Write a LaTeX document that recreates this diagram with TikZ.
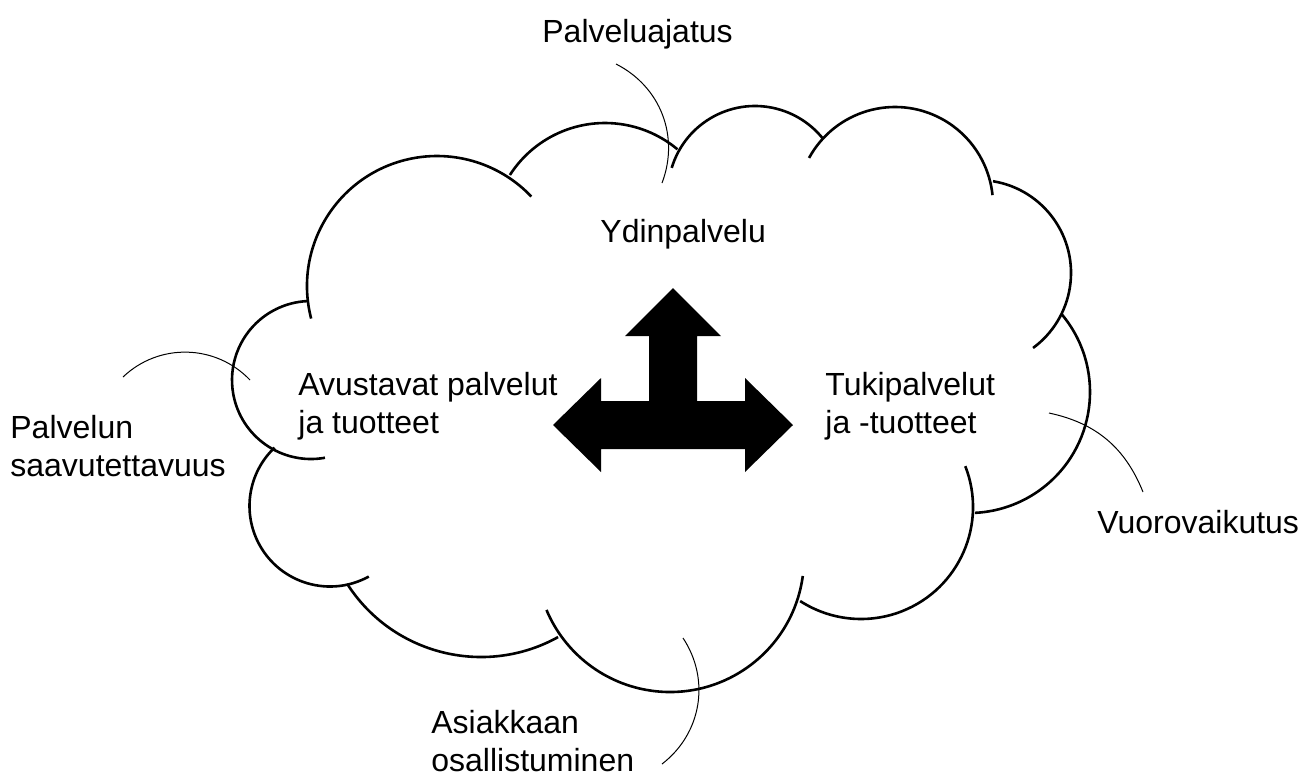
\documentclass[tikz,border=0pt]{standalone}
\usepackage{fontspec}
\setmainfont{Liberation Sans}
\usetikzlibrary{positioning}

\begin{document}
\begin{tikzpicture}[
    x=0.5pt, y=0.5pt,
    lbl/.style={font=\fontsize{16}{19}\selectfont, align=left,
                inner sep=0pt, anchor=base west},
    lobe/.style={line width=1.3pt, draw=black},
    lead/.style={line width=0.5pt, draw=black},
    fork/.style={fill=black}
]
\useasboundingbox (0,0) rectangle (1312,-778);

% cloud outline, one arc per lobe
\draw[lobe] (437,-286) ++(194.5:130) arc[start angle=194.5, end angle=43.5, radius=130];
\draw[lobe] (605,-236) ++(147.3:113) arc[start angle=147.3, end angle=50.1, radius=113];
\draw[lobe] (755,-193) ++(163.2:87) arc[start angle=163.2, end angle=38.6, radius=87];
\draw[lobe] (895,-205) ++(151.3:98) arc[start angle=151.3, end angle=5.8, radius=98];
\draw[lobe] (978,-273) ++(80.7:93) arc[start angle=80.7, end angle=-53.7, radius=93];
\draw[lobe] (969,-392) ++(40:121) arc[start angle=40, end angle=-87.2, radius=121];
\draw[lobe] (861,-507) ++(21.4:112) arc[start angle=21.4, end angle=-122.9, radius=112];
\draw[lobe] (670,-558) ++(-7.7:134) arc[start angle=-7.7, end angle=-157.2, radius=134];
\draw[lobe] (481,-498) ++(-61:159) arc[start angle=-61, end angle=-147.3, radius=159];
\draw[lobe] (330,-506) ++(-61.2:80.5) arc[start angle=-61.2, end angle=-226.5, radius=80.5];
\draw[lobe] (311,-380) ++(-79.8:79) arc[start angle=-79.8, end angle=-267.8, radius=79];

% three-way arrow
\fill[fork] (673,-288) -- (721,-336) -- (697,-336) -- (697,-401) -- (745,-401)
    -- (745,-378) -- (793,-425) -- (745,-472) -- (745,-449) -- (601,-449)
    -- (601,-472) -- (553,-425) -- (601,-378) -- (601,-401) -- (649,-401)
    -- (649,-336) -- (625,-336) -- cycle;

% base of a two-line label is its last line
\node[lbl] (core) at (600,-242) {Ydinpalvelu};
\node[lbl] (aux) at (298,-433) {Avustavat palvelut\\ja tuotteet};
\node[lbl] (support) at (825,-433) {Tukipalvelut\\ja -tuotteet};

\node[lbl] (idea) at (542,-42) {Palveluajatus};
\node[lbl] (access) at (10,-476) {Palvelun\\saavutettavuus};
\node[lbl] (interact) at (1097,-533) {Vuorovaikutus};
\node[lbl] (partic) at (431,-771) {Asiakkaan\\osallistuminen};

\coordinate (ideaA) at (616,-64);
\coordinate (ideaB) at (662,-183);
\coordinate (accessA) at (123,-377);
\coordinate (accessB) at (250,-380);
\coordinate (interactA) at (1049,-413);
\coordinate (interactB) at (1143,-492);
\coordinate (particA) at (683,-638);
\coordinate (particB) at (662,-764);

\draw[lead] (ideaA) to[bend left=42] (ideaB);
\draw[lead] (accessA) to[bend left=45] (accessB);
\draw[lead] (interactA) to[bend left=28] (interactB);
\draw[lead] (particA) to[bend left=43] (particB);
\end{tikzpicture}
\end{document}
